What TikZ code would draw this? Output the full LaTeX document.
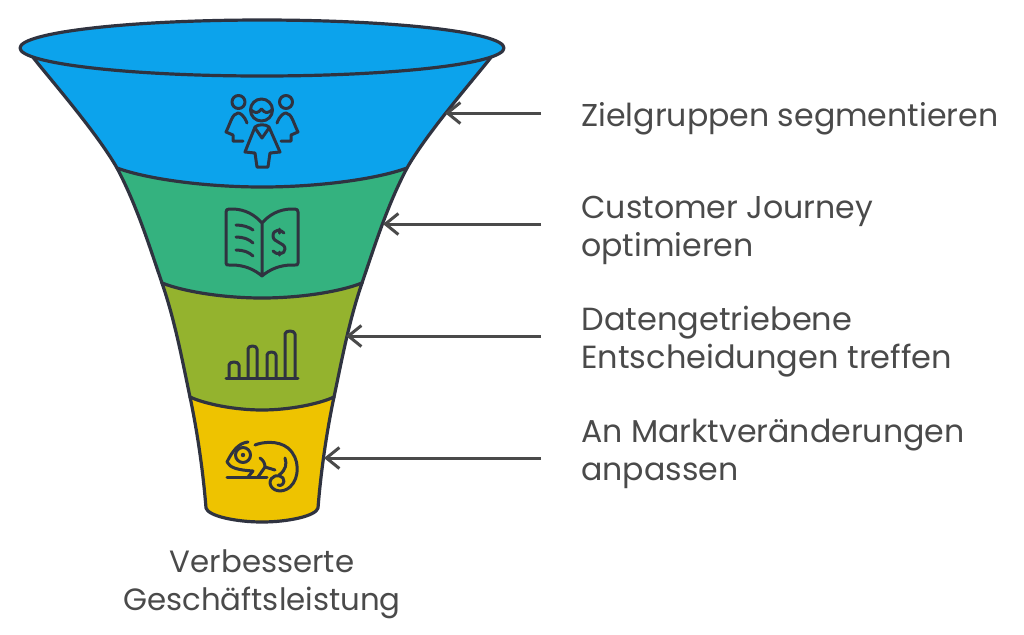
\documentclass[tikz,border=0pt]{standalone}
\usepackage{fontspec}
\setmainfont{Poppins}
\usetikzlibrary{arrows.meta}
\definecolor{ink}{HTML}{2F3340}
\definecolor{txt}{HTML}{4A4A4A}
\definecolor{cblue}{HTML}{0CA3EC}
\definecolor{cgreen}{HTML}{34B27F}
\definecolor{colive}{HTML}{94B32E}
\definecolor{cyellow}{HTML}{EEC300}
\tikzset{
 band/.style={draw=ink,line width=1.6pt,line join=round},
 icon/.style={draw=ink,line width=1.5pt,line cap=round,line join=round},
 lab/.style={text=txt,font=\fontsize{15.8}{19}\selectfont,align=left,anchor=west,inner sep=0pt},
 arrowline/.style={draw=txt,line width=1.5pt,-{Straight Barb[length=6.5pt,width=10.5pt,line width=1.5pt]}}
}
\begin{document}
\begin{tikzpicture}[x=0.5pt,y=-0.5pt]
\useasboundingbox (0,0) rectangle (1024,634);
% side points
\coordinate (L0) at (32,56); \coordinate (R0) at (492,56);
\coordinate (L1) at (117,168); \coordinate (R1) at (407,168);
\coordinate (L2) at (162,283); \coordinate (R2) at (362,283);
\coordinate (L3) at (190,397); \coordinate (R3) at (334,397);
\coordinate (L4) at (206,508); \coordinate (R4) at (318,508);
% yellow
\path[band,fill=cyellow] (L3) .. controls (197,430) and (203,470) .. (L4) .. controls (208,516) and (236,522) .. (262,522) .. controls (288,522) and (316,516) .. (R4) .. controls (321,470) and (327,430) .. (R3) -- cycle;
% olive
\path[band,fill=colive] (L2) .. controls (175,321) and (182,359) .. (L3) .. controls (205,404) and (235,410) .. (262,410) .. controls (289,410) and (319,404) .. (R3) .. controls (342,359) and (349,321) .. (R2) -- cycle;
% green
\path[band,fill=cgreen] (L1) .. controls (137,206) and (149,245) .. (L2) .. controls (185,292) and (225,298) .. (262,298) .. controls (299,298) and (339,292) .. (R2) .. controls (375,245) and (387,206) .. (R1) -- cycle;
% blue
\path[band,fill=cblue] (L0) .. controls (44,72) and (96,131) .. (L1) .. controls (150,180) and (210,187) .. (262,187) .. controls (314,187) and (374,180) .. (R1) .. controls (428,131) and (480,72) .. (R0) -- cycle;
\path[band,fill=cblue] (262,48) ellipse [x radius=242,y radius=28];
% people icon
\begin{scope}[icon]
\draw (238.5,102) circle (6.5);
\draw (286,102) circle (6.5);
\draw (261.5,110) circle (11);
\draw (251,110) .. controls (256,114) and (258,113) .. (261.5,109) .. controls (265,113) and (267,114) .. (272,110);
\draw (247,123) .. controls (244,115) and (240,113) .. (238,113) .. controls (232,114) and (231,122) .. (226,132) -- (233,135) -- (233,141) -- (243,141);
\draw (277,123) .. controls (280,115) and (284,113) .. (286,113) .. controls (292,114) and (293,122) .. (298,132) -- (291,135) -- (291,141) -- (281,141);
\draw (255,127) .. controls (258,124) and (266,124) .. (269,127) -- (280,152) -- (270,153) -- (268,167) -- (257,167) -- (255,153) -- (245,152) -- cycle;
\draw (255,128) -- (262,138) -- (269,128);
\end{scope}
% book icon
\begin{scope}[icon]
\draw (262,223) .. controls (255,215) and (245,209) .. (232,209) -- (229,209) .. controls (227,209) and (226,210) .. (226,212) -- (226,263) .. controls (226,265) and (227,265) .. (229,265) -- (232,265) .. controls (245,265) and (255,270) .. (262,276) .. controls (269,270) and (279,265) .. (292,265) -- (295,265) .. controls (297,265) and (298,265) .. (298,263) -- (298,212) .. controls (298,210) and (297,209) .. (295,209) -- (292,209) .. controls (279,209) and (269,215) .. (262,223) -- (262,276);
\draw (236,225) .. controls (243,225) and (249,227) .. (253,230);
\draw (236,237) .. controls (243,237) and (249,239) .. (253,243);
\draw (236,250) .. controls (243,250) and (249,252) .. (253,256);
\draw (284,233) .. controls (281,229) and (273,229) .. (273,236) .. controls (273,243) and (285,242) .. (285,249) .. controls (285,255) and (276,255) .. (273,251);
\draw (279,229) -- (279,233) (279,252) -- (279,255);
\end{scope}
% bars icon
\begin{scope}[icon]
\draw (226,378) -- (298,378);
\draw (229,378) -- (229,365) .. controls (229,361) and (239,361) .. (239,365) -- (239,378);
\draw (248,378) -- (248,349) .. controls (248,345) and (257,345) .. (257,349) -- (257,378);
\draw (267,378) -- (267,355) .. controls (267,351) and (276,351) .. (276,355) -- (276,378);
\draw (285,378) -- (285,334) .. controls (285,330) and (295,330) .. (295,334) -- (295,378);
\end{scope}
% chameleon icon
\begin{scope}[icon]
\draw (227,477) -- (267,477);
\draw (248,442) .. controls (238,443) and (232,452) .. (227,462) .. controls (230,468) and (238,470) .. (253,471) -- (248,477);
\draw (243,455) circle (7.5);
\fill[ink] (243,455) circle (2.2);
\draw (255,445) .. controls (262,442) and (278,440) .. (288,448) .. controls (300,458) and (300,478) .. (290,487) .. controls (282,494) and (271,491) .. (270,483) .. controls (270,476) and (279,473) .. (283,478) .. controls (286,483) and (281,487) .. (278,485);
\draw (260,458) .. controls (263,460) and (265,463) .. (265,467) -- (258,477);
\draw (265,467) -- (275,470);
\draw (285,458) .. controls (287,464) and (286,470) .. (279,475);
\end{scope}
% labels
\node[lab] (t1) at (581,119) {Zielgruppen segmentieren};
\node[lab] (t2) at (581,230.5) {Customer Journey\\optimieren};
\node[lab,font=\fontsize{16}{19}\selectfont] (t3) at (581,342) {Datengetriebene\\Entscheidungen treffen};
\node[lab] (t4) at (581,454) {An Marktveränderungen\\anpassen};
\node[lab,anchor=center,align=center,font=\fontsize{15.4}{19}\selectfont] (t5) at (262,584) {Verbesserte\\Geschäftsleistung};
% connectors
\coordinate (a1s) at (541,113); \coordinate (a1e) at (445,113);
\coordinate (a2s) at (541,224); \coordinate (a2e) at (383,224);
\coordinate (a3s) at (541,336); \coordinate (a3e) at (346,336);
\coordinate (a4s) at (541,458); \coordinate (a4e) at (324,458);
\draw[arrowline] (a1s) -- (a1e);
\draw[arrowline] (a2s) -- (a2e);
\draw[arrowline] (a3s) -- (a3e);
\draw[arrowline] (a4s) -- (a4e);
\end{tikzpicture}
\end{document}
